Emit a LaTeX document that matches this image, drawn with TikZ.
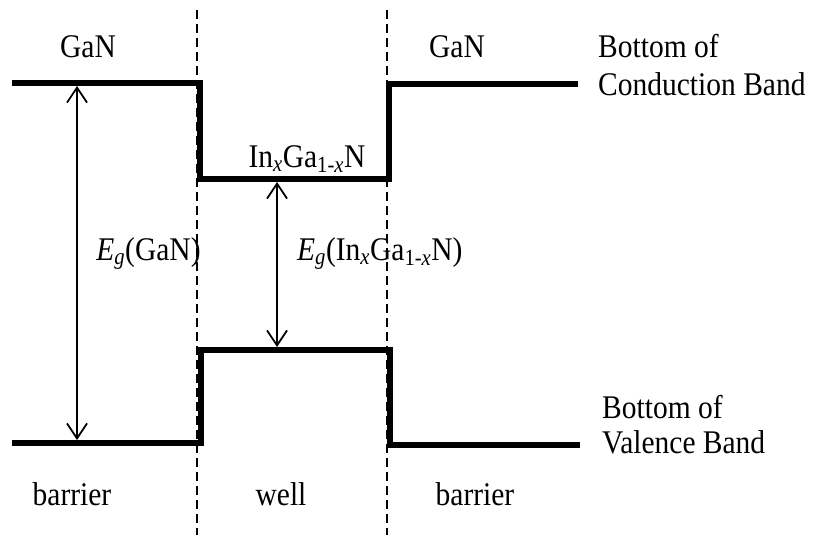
\documentclass[tikz,border=0pt]{standalone}
\usepackage{fontspec}
\setmainfont{Liberation Serif}
\usetikzlibrary{arrows.meta}
\begin{document}
\begin{tikzpicture}[x=1pt,y=-1pt,
  band/.style={line width=5.5pt,line join=miter,line cap=butt},
  divider/.style={line width=2.2pt,dash pattern=on 9pt off 5pt},
  gap/.style={line width=1.8pt,{Straight Barb[length=15pt,width=20pt]}-{Straight Barb[length=15pt,width=20pt]}},
  lbl/.style={inner sep=0pt,font=\fontsize{29.5}{36}\selectfont,yscale=1.12}]
\useasboundingbox (0,0) rectangle (813,535);
% band edge corners
\coordinate (c0) at (12,83);
\coordinate (c1) at (200,83);
\coordinate (c2) at (200,179);
\coordinate (c3) at (389,179);
\coordinate (c4) at (389,84);
\coordinate (c5) at (578,84);
\coordinate (v0) at (12,443);
\coordinate (v1) at (201,443);
\coordinate (v2) at (201,350);
\coordinate (v3) at (390,350);
\coordinate (v4) at (390,445);
\coordinate (v5) at (580,445);
\draw[band] (c0) -- (c1) -- (c2) -- (c3) -- (c4) -- (c5);
\draw[band] (v0) -- (v1) -- (v2) -- (v3) -- (v4) -- (v5);
% dividers
\coordinate (d1t) at (197,10);
\coordinate (d1b) at (197,535);
\coordinate (d2t) at (387,10);
\coordinate (d2b) at (387,535);
\draw[divider] (d1t) -- (d1b);
\draw[divider] (d2t) -- (d2b);
% gap arrows
\coordinate (ga) at (77,86);
\coordinate (gb) at (77,440);
\coordinate (wa) at (277,182);
\coordinate (wb) at (277,347);
\draw[gap] (ga) -- (gb);
\draw[gap] (wa) -- (wb);
% labels
\node[lbl,anchor=base] (gan1) at (88,57) {GaN};
\node[lbl,anchor=base] (gan2) at (457,57) {GaN};
\node[lbl,anchor=base west] (cb1) at (598,57) {Bottom of};
\node[lbl,anchor=base west] (cb2) at (598,95) {Conduction Band};
\node[lbl,anchor=base] (ingan) at (307,167) {In\textsubscript{\textit{x}}Ga\textsubscript{1-\textit{x}}N};
\node[lbl,anchor=base] (eg1) at (148.5,260) {\textit{E}\textsubscript{\textit{g}}(GaN)};
\node[lbl,anchor=base west] (eg2) at (297,260) {\textit{E}\textsubscript{\textit{g}}(In\textsubscript{\textit{x}}Ga\textsubscript{1-\textit{x}}N)};
\node[lbl,anchor=base west] (vb1) at (602,418) {Bottom of};
\node[lbl,anchor=base west] (vb2) at (602,453) {Valence Band};
\node[lbl,anchor=base] (bar1) at (72,505) {barrier};
\node[lbl,anchor=base] (well) at (281,505) {well};
\node[lbl,anchor=base] (bar2) at (475,505) {barrier};
\end{tikzpicture}
\end{document}
